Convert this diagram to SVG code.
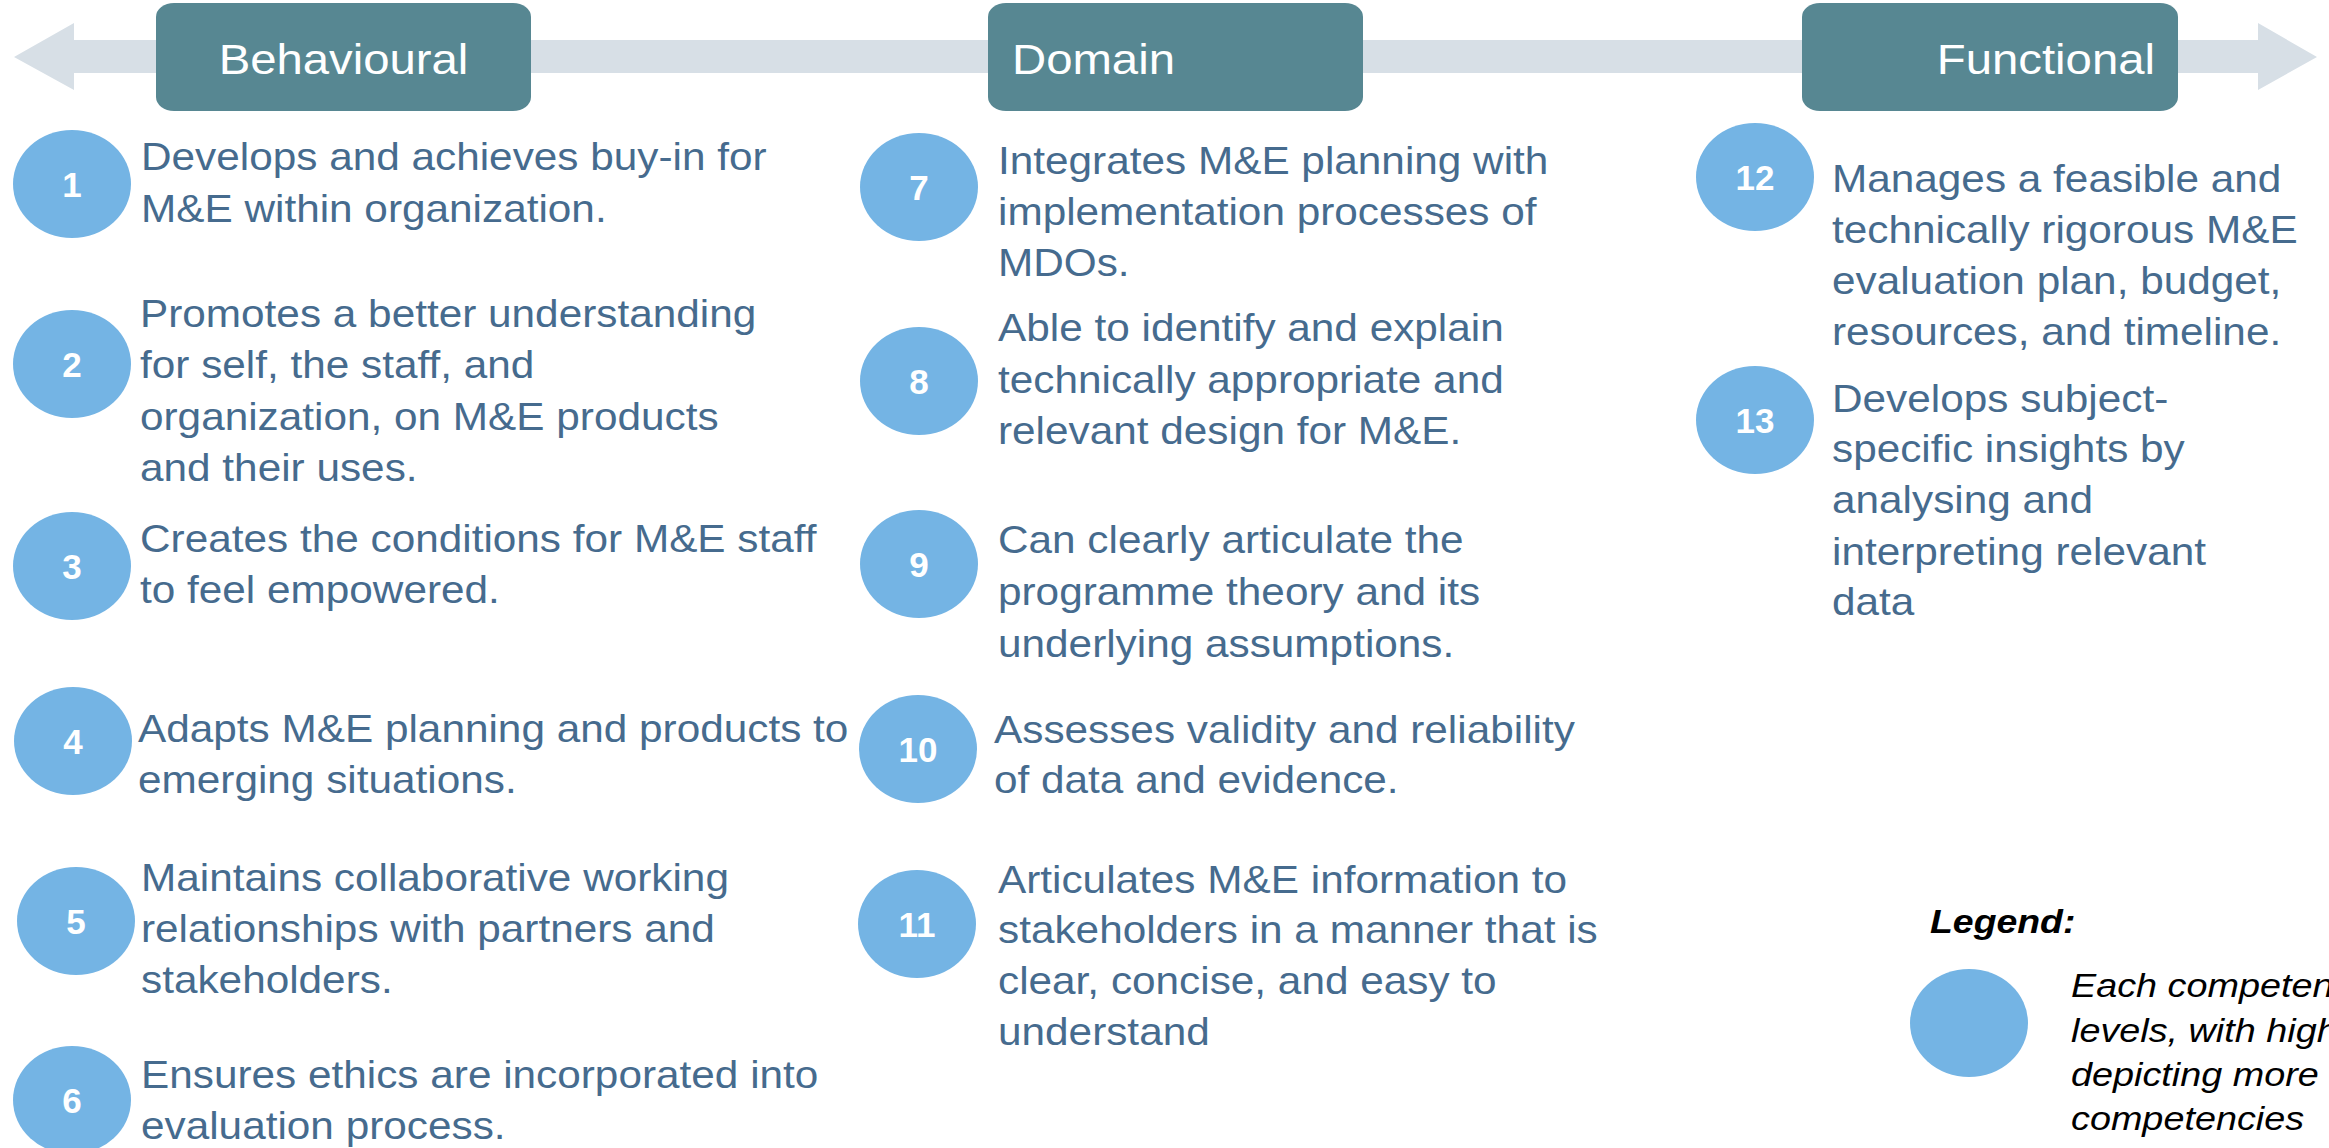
<svg xmlns="http://www.w3.org/2000/svg" width="2329" height="1148" viewBox="0 0 2329 1148">
<style>
.hdr{fill:#578792}
.hdrt{font-family:"Liberation Sans",Arial,sans-serif;font-size:43px;fill:#ffffff}
.dot{fill:#74B4E4}
.num{font-family:"Liberation Sans",Arial,sans-serif;font-size:35px;font-weight:bold;fill:#ffffff;text-anchor:middle}
.body{font-family:"Liberation Sans",Arial,sans-serif;font-size:39px;fill:#466B8E}
.leg{font-family:"Liberation Sans",Arial,sans-serif;fill:#000000;font-style:italic}
</style>
<rect width="2329" height="1148" fill="#ffffff"/>
<g id="connectors">
<polygon points="14,57 74,23 74,40 2258,40 2258,23 2317,57 2258,90 2258,73 74,73 74,90" fill="#D7DFE6"/>
</g>
<g id="hdr-behavioural">
<rect class="hdr" x="156" y="3" width="375" height="108" rx="18" ry="14"/>
<text class="hdrt" text-anchor="middle" transform="translate(343.5 0) scale(1.1 1)" x="0" y="74">Behavioural</text>
</g>
<g id="hdr-domain">
<rect class="hdr" x="988" y="3" width="375" height="108" rx="18" ry="14"/>
<text class="hdrt" transform="translate(1012 0) scale(1.1 1)" x="0" y="74">Domain</text>
</g>
<g id="hdr-functional">
<rect class="hdr" x="1802" y="3" width="376" height="108" rx="18" ry="14"/>
<text class="hdrt" text-anchor="end" transform="translate(2155 0) scale(1.1 1)" x="0" y="74">Functional</text>
</g>

<g id="n1">
<ellipse class="dot" cx="72" cy="184" rx="59" ry="54"/>
<text class="num" x="72" y="197">1</text>
<text class="body" transform="translate(141 0) scale(1.085 1)"><tspan x="0" y="170">Develops and achieves buy-in for</tspan><tspan x="0" y="222">M&amp;E within organization.</tspan></text>
</g>
<g id="n2">
<ellipse class="dot" cx="72" cy="364" rx="59" ry="54"/>
<text class="num" x="72" y="377">2</text>
<text class="body" transform="translate(140 0) scale(1.085 1)"><tspan x="0" y="327">Promotes a better understanding</tspan><tspan x="0" y="378">for self, the staff, and</tspan><tspan x="0" y="430">organization, on M&amp;E products</tspan><tspan x="0" y="481">and their uses.</tspan></text>
</g>
<g id="n3">
<ellipse class="dot" cx="72" cy="566" rx="59" ry="54"/>
<text class="num" x="72" y="579">3</text>
<text class="body" transform="translate(140 0) scale(1.085 1)"><tspan x="0" y="552">Creates the conditions for M&amp;E staff</tspan><tspan x="0" y="603">to feel empowered.</tspan></text>
</g>
<g id="n4">
<ellipse class="dot" cx="73" cy="741" rx="59" ry="54"/>
<text class="num" x="73" y="754">4</text>
<text class="body" transform="translate(138 0) scale(1.085 1)"><tspan x="0" y="742">Adapts M&amp;E planning and products to</tspan><tspan x="0" y="793">emerging situations.</tspan></text>
</g>
<g id="n5">
<ellipse class="dot" cx="76" cy="921" rx="59" ry="54"/>
<text class="num" x="76" y="934">5</text>
<text class="body" transform="translate(141 0) scale(1.085 1)"><tspan x="0" y="891">Maintains collaborative working</tspan><tspan x="0" y="942">relationships with partners and</tspan><tspan x="0" y="993">stakeholders.</tspan></text>
</g>
<g id="n6">
<ellipse class="dot" cx="72" cy="1100" rx="59" ry="54"/>
<text class="num" x="72" y="1113">6</text>
<text class="body" transform="translate(141 0) scale(1.085 1)"><tspan x="0" y="1088">Ensures ethics are incorporated into</tspan><tspan x="0" y="1139">evaluation process.</tspan></text>
</g>

<g id="n7">
<ellipse class="dot" cx="919" cy="187" rx="59" ry="54"/>
<text class="num" x="919" y="200">7</text>
<text class="body" transform="translate(998 0) scale(1.085 1)"><tspan x="0" y="174">Integrates M&amp;E planning with</tspan><tspan x="0" y="225">implementation processes of</tspan><tspan x="0" y="276">MDOs.</tspan></text>
</g>
<g id="n8">
<ellipse class="dot" cx="919" cy="381" rx="59" ry="54"/>
<text class="num" x="919" y="394">8</text>
<text class="body" transform="translate(998 0) scale(1.085 1)"><tspan x="0" y="341">Able to identify and explain</tspan><tspan x="0" y="393">technically appropriate and</tspan><tspan x="0" y="444">relevant design for M&amp;E.</tspan></text>
</g>
<g id="n9">
<ellipse class="dot" cx="919" cy="564" rx="59" ry="54"/>
<text class="num" x="919" y="577">9</text>
<text class="body" transform="translate(998 0) scale(1.085 1)"><tspan x="0" y="553">Can clearly articulate the</tspan><tspan x="0" y="605">programme theory and its</tspan><tspan x="0" y="657">underlying assumptions.</tspan></text>
</g>
<g id="n10">
<ellipse class="dot" cx="918" cy="749" rx="59" ry="54"/>
<text class="num" x="918" y="762">10</text>
<text class="body" transform="translate(994 0) scale(1.085 1)"><tspan x="0" y="743">Assesses validity and reliability</tspan><tspan x="0" y="793">of data and evidence.</tspan></text>
</g>
<g id="n11">
<ellipse class="dot" cx="917" cy="924" rx="59" ry="54"/>
<text class="num" x="917" y="937">11</text>
<text class="body" transform="translate(998 0) scale(1.085 1)"><tspan x="0" y="893">Articulates M&amp;E information to</tspan><tspan x="0" y="943">stakeholders in a manner that is</tspan><tspan x="0" y="994">clear, concise, and easy to</tspan><tspan x="0" y="1045">understand</tspan></text>
</g>

<g id="n12">
<ellipse class="dot" cx="1755" cy="177" rx="59" ry="54"/>
<text class="num" x="1755" y="190">12</text>
<text class="body" transform="translate(1832 0) scale(1.085 1)"><tspan x="0" y="192">Manages a feasible and</tspan><tspan x="0" y="243">technically rigorous M&amp;E</tspan><tspan x="0" y="294">evaluation plan, budget,</tspan><tspan x="0" y="345">resources, and timeline.</tspan></text>
</g>
<g id="n13">
<ellipse class="dot" cx="1755" cy="420" rx="59" ry="54"/>
<text class="num" x="1755" y="433">13</text>
<text class="body" transform="translate(1832 0) scale(1.085 1)"><tspan x="0" y="412">Develops subject-</tspan><tspan x="0" y="462">specific insights by</tspan><tspan x="0" y="513">analysing and</tspan><tspan x="0" y="565">interpreting relevant</tspan><tspan x="0" y="615">data</tspan></text>
</g>

<g id="legend">
<text class="leg" font-weight="bold" font-size="34" transform="translate(1930 0) scale(1.1 1)" x="0" y="933">Legend:</text>
<ellipse class="dot" cx="1969" cy="1023" rx="59" ry="54"/>
<text class="leg" font-size="33" transform="translate(2071 0) scale(1.145 1)"><tspan x="0" y="997">Each competen</tspan><tspan x="0" y="1042">levels, with high</tspan><tspan x="0" y="1086">depicting more c</tspan><tspan x="0" y="1130">competencies</tspan></text>
</g>
</svg>
